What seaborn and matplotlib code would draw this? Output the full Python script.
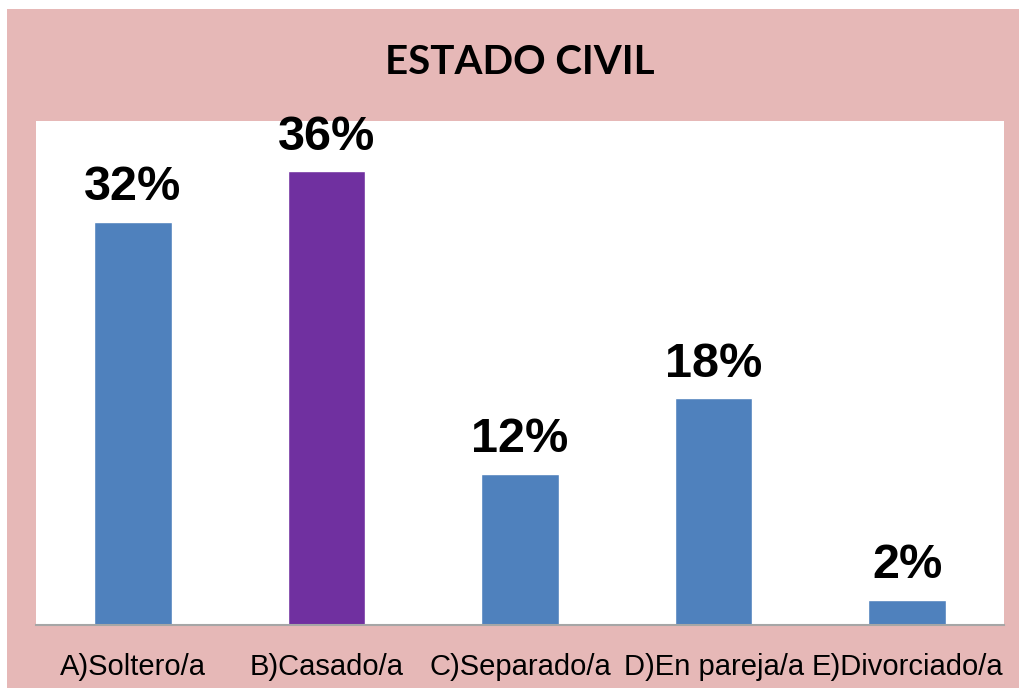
import matplotlib
matplotlib.use("Agg")
import matplotlib.pyplot as plt
import seaborn as sns
import pandas as pd
from matplotlib.patches import Rectangle

categorias = ["A)Soltero/a", "B)Casado/a", "C)Separado/a", "D)En pareja/a", "E)Divorciado/a"]
porcentajes = [32, 36, 12, 18, 2]
colores = ["#4F81BD", "#7030A0", "#4F81BD", "#4F81BD", "#4F81BD"]

data = pd.DataFrame({"Estado": categorias, "Porcentaje": porcentajes})

sns.set_style("white")
plt.rcParams["font.family"] = ["Liberation Sans", "DejaVu Sans"]

fig = plt.figure(figsize=(10.2, 6.88), dpi=100)
fig.patch.set_facecolor("white")
fig.patches.append(Rectangle((7 / 1020, 0), 1 - 7 / 1020, 1 - 9 / 688,
                             transform=fig.transFigure, facecolor="#E6B8B7",
                             edgecolor="none", zorder=-10))

ax = fig.add_axes([36 / 1020, 63 / 688, 968 / 1020, 504 / 688])
ax.set_facecolor("white")
sns.barplot(data=data, x="Estado", y="Porcentaje", hue="Estado",
            palette=colores, width=0.4, legend=False, saturation=1, ax=ax)

ax.set_xlim(-0.5, 4.5)
ax.set_ylim(0, 40)
ax.set_yticks([])
ax.set_xlabel("")
ax.set_ylabel("")
for s in ["top", "right", "left"]:
    ax.spines[s].set_visible(False)
ax.spines["bottom"].set_color("#A6A6A6")
ax.spines["bottom"].set_linewidth(1.5)
ax.tick_params(axis="x", length=0, pad=20, labelsize=21, labelcolor="black")

for i, v in enumerate(porcentajes):
    ax.text(i, v + 0.9, f"{v}%", ha="center", va="bottom",
            fontsize=35, fontweight="bold", color="black")

fig.text(520 / 1020, 1 - 62 / 688, "ESTADO CIVIL", ha="center", va="center",
         fontsize=29, fontweight="bold", color="black", family=["Lato", "DejaVu Sans"])

fig.savefig("out.png", dpi=100)
